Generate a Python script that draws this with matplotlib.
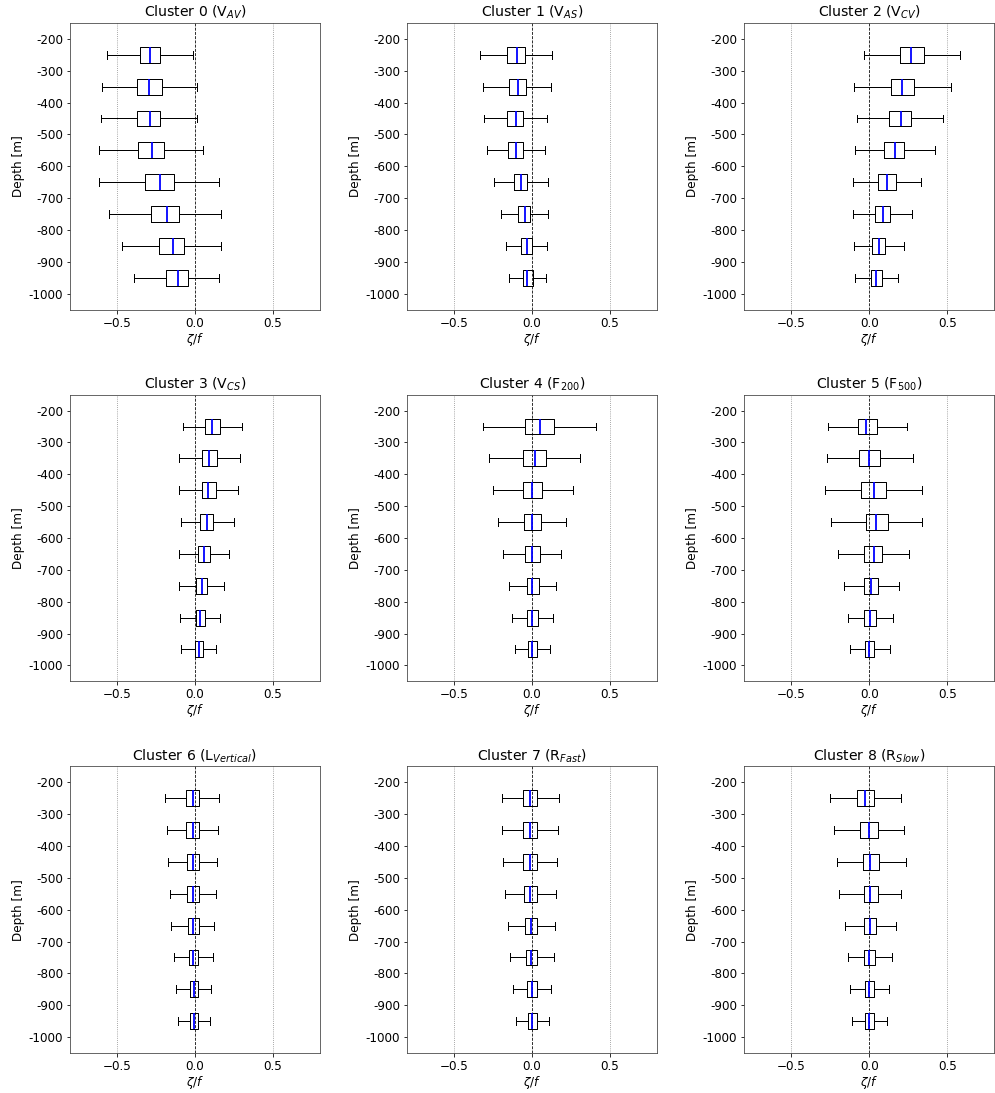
import matplotlib
matplotlib.use("Agg")
import matplotlib.pyplot as plt

depths = [-250, -350, -450, -550, -650, -750, -850, -950]
ytick_values = [-200, -300, -400, -500, -600, -700, -800, -900, -1000]
titles = [
    "Cluster 0 (V$_{AV}$)", "Cluster 1 (V$_{AS}$)", "Cluster 2 (V$_{CV}$)",
    "Cluster 3 (V$_{CS}$)", "Cluster 4 (F$_{200}$)", "Cluster 5 (F$_{500}$)",
    "Cluster 6 (L$_{Vertical}$)", "Cluster 7 (R$_{Fast}$)", "Cluster 8 (R$_{Slow}$)",
]

# per cluster, per depth: whisker low, q1, median, q3, whisker high
c0_lo = [-0.561, -0.593, -0.600, -0.612, -0.612, -0.552, -0.469, -0.388]
c0_q1 = [-0.353, -0.368, -0.373, -0.364, -0.321, -0.280, -0.231, -0.188]
c0_md = [-0.287, -0.291, -0.289, -0.278, -0.225, -0.180, -0.139, -0.107]
c0_q3 = [-0.221, -0.214, -0.221, -0.197, -0.133, -0.101, -0.071, -0.047]
c0_hi = [-0.015, 0.015, 0.011, 0.049, 0.152, 0.169, 0.169, 0.152]

c1_lo = [-0.335, -0.312, -0.310, -0.289, -0.246, -0.197, -0.168, -0.149]
c1_q1 = [-0.161, -0.149, -0.159, -0.153, -0.115, -0.087, -0.070, -0.057]
c1_md = [-0.098, -0.091, -0.104, -0.102, -0.070, -0.047, -0.034, -0.030]
c1_q3 = [-0.045, -0.040, -0.057, -0.059, -0.030, -0.011, -0.002, 0.004]
c1_hi = [0.130, 0.121, 0.093, 0.081, 0.104, 0.104, 0.098, 0.089]

c2_lo = [-0.036, -0.097, -0.078, -0.093, -0.106, -0.106, -0.097, -0.089]
c2_q1 = [0.195, 0.138, 0.129, 0.097, 0.059, 0.038, 0.021, 0.015]
c2_md = [0.269, 0.212, 0.201, 0.163, 0.117, 0.087, 0.061, 0.047]
c2_q3 = [0.352, 0.288, 0.265, 0.225, 0.169, 0.131, 0.104, 0.083]
c2_hi = [0.585, 0.525, 0.475, 0.419, 0.335, 0.275, 0.225, 0.186]

c3_lo = [-0.079, -0.105, -0.100, -0.092, -0.100, -0.100, -0.096, -0.088]
c3_q1 = [0.064, 0.043, 0.043, 0.034, 0.017, 0.009, 0.004, -0.002]
c3_md = [0.107, 0.090, 0.085, 0.077, 0.058, 0.043, 0.032, 0.024]
c3_q3 = [0.160, 0.139, 0.135, 0.118, 0.096, 0.079, 0.066, 0.053]
c3_hi = [0.301, 0.286, 0.274, 0.248, 0.216, 0.186, 0.158, 0.137]

c4_lo = [-0.314, -0.276, -0.251, -0.217, -0.183, -0.149, -0.127, -0.108]
c4_q1 = [-0.042, -0.057, -0.057, -0.051, -0.042, -0.034, -0.030, -0.023]
c4_md = [0.049, 0.017, 0.002, 0.000, 0.000, 0.000, 0.000, 0.002]
c4_q3 = [0.140, 0.089, 0.066, 0.055, 0.049, 0.042, 0.036, 0.032]
c4_hi = [0.410, 0.308, 0.261, 0.219, 0.187, 0.155, 0.134, 0.115]

c5_lo = [-0.265, -0.269, -0.282, -0.244, -0.201, -0.163, -0.138, -0.121]
c5_q1 = [-0.074, -0.068, -0.049, -0.023, -0.030, -0.030, -0.030, -0.028]
c5_md = [-0.017, 0.000, 0.030, 0.047, 0.028, 0.013, 0.004, 0.000]
c5_q3 = [0.051, 0.072, 0.106, 0.121, 0.085, 0.059, 0.047, 0.034]
c5_hi = [0.242, 0.278, 0.341, 0.339, 0.256, 0.193, 0.155, 0.131]

c6_lo = [-0.190, -0.182, -0.173, -0.162, -0.152, -0.137, -0.120, -0.107]
c6_q1 = [-0.058, -0.056, -0.051, -0.049, -0.047, -0.041, -0.034, -0.032]
c6_md = [-0.015, -0.015, -0.013, -0.013, -0.015, -0.011, -0.009, -0.006]
c6_q3 = [0.026, 0.026, 0.026, 0.026, 0.024, 0.021, 0.019, 0.017]
c6_hi = [0.152, 0.150, 0.143, 0.132, 0.122, 0.113, 0.103, 0.094]

c7_lo = [-0.193, -0.191, -0.189, -0.176, -0.157, -0.138, -0.121, -0.104]
c7_q1 = [-0.059, -0.057, -0.057, -0.049, -0.042, -0.036, -0.030, -0.025]
c7_md = [-0.013, -0.013, -0.013, -0.011, -0.006, -0.004, 0.000, 0.002]
c7_q3 = [0.032, 0.032, 0.032, 0.032, 0.032, 0.032, 0.032, 0.030]
c7_hi = [0.172, 0.166, 0.163, 0.153, 0.149, 0.138, 0.121, 0.106]

c8_lo = [-0.252, -0.227, -0.208, -0.193, -0.157, -0.138, -0.125, -0.112]
c8_q1 = [-0.081, -0.057, -0.040, -0.036, -0.034, -0.030, -0.028, -0.028]
c8_md = [-0.025, 0.000, 0.008, 0.008, 0.006, 0.002, 0.000, 0.000]
c8_q3 = [0.034, 0.057, 0.066, 0.059, 0.047, 0.040, 0.034, 0.028]
c8_hi = [0.201, 0.225, 0.233, 0.201, 0.172, 0.144, 0.127, 0.117]

clusters = [
    (c0_lo, c0_q1, c0_md, c0_q3, c0_hi),
    (c1_lo, c1_q1, c1_md, c1_q3, c1_hi),
    (c2_lo, c2_q1, c2_md, c2_q3, c2_hi),
    (c3_lo, c3_q1, c3_md, c3_q3, c3_hi),
    (c4_lo, c4_q1, c4_md, c4_q3, c4_hi),
    (c5_lo, c5_q1, c5_md, c5_q3, c5_hi),
    (c6_lo, c6_q1, c6_md, c6_q3, c6_hi),
    (c7_lo, c7_q1, c7_md, c7_q3, c7_hi),
    (c8_lo, c8_q1, c8_md, c8_q3, c8_hi),
]

DPI = 72
fig, axes = plt.subplots(3, 3, figsize=(995 / DPI, 1093 / DPI), dpi=DPI)
fig.subplots_adjust(left=0.0704, right=0.999, top=0.979, bottom=0.0366,
                    wspace=0.35, hspace=0.297)

for ax, title, (lo, q1, md, q3, hi) in zip(axes.flat, titles, clusters):
    stats = [dict(whislo=a, q1=b, med=c, q3=d, whishi=e, fliers=[])
             for a, b, c, d, e in zip(lo, q1, md, q3, hi)]
    ax.axvline(-0.5, color="gray", linestyle=":", linewidth=0.8, zorder=1)
    ax.axvline(0.5, color="gray", linestyle=":", linewidth=0.8, zorder=1)
    ax.axvline(0.0, color="black", linestyle="--", linewidth=0.8, zorder=1)
    ax.bxp(stats, positions=depths, widths=50, vert=False, showfliers=False,
           boxprops=dict(color="black", linewidth=1.0),
           whiskerprops=dict(color="black", linewidth=1.0),
           capprops=dict(color="black", linewidth=1.0),
           medianprops=dict(color="blue", linewidth=1.8),
           manage_ticks=False)
    ax.set_xlim(-0.8, 0.8)
    ax.set_ylim(-1050, -150)
    ax.set_yticks(ytick_values)
    ax.set_yticklabels([str(v) for v in ytick_values])
    ax.set_xticks([-0.5, 0.0, 0.5])
    ax.tick_params(labelsize=12)
    for spine in ax.spines.values():
        spine.set_edgecolor("#444444")
    ax.set_title(title, fontsize=14)
    ax.set_xlabel(r"$\zeta/f$", fontsize=12, labelpad=1)
    ax.set_ylabel("Depth [m]", fontsize=12)

fig.savefig("out.png", dpi=DPI)
